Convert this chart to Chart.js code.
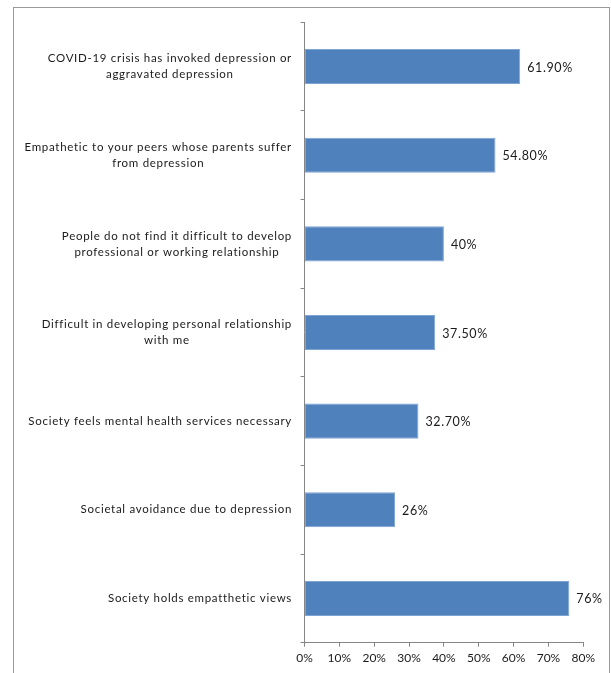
<!DOCTYPE html>
<html>
<head>
<meta charset="utf-8">
<script src="https://cdn.jsdelivr.net/npm/chart.js@4/dist/chart.umd.min.js"></script>
<style>
  html, body { margin: 0; padding: 0; background: #fff; }
  #wrap { position: relative; width: 611px; height: 673px; }
</style>
</head>
<body>
<div id="wrap"><canvas id="c" width="611" height="673"></canvas></div>
<script>
const categories = [
  ["COVID-19 crisis has invoked depression or", "aggravated depression"],
  ["Empathetic to your peers whose parents suffer", "from depression"],
  ["People do not find it difficult to develop", "professional or working relationship"],
  ["Difficult in developing personal relationship", "with me"],
  ["Society feels mental health services necessary"],
  ["Societal avoidance due to depression"],
  ["Society holds empatthetic views"]
];
const values = [61.9, 54.8, 40, 37.5, 32.7, 26, 76];
const valueLabels = ["61.90%", "54.80%", "40%", "37.50%", "32.70%", "26%", "76%"];
const xTickLabels = ["0%", "10%", "20%", "30%", "40%", "50%", "60%", "70%", "80%"];

const FONT = "Lato, 'Open Sans', sans-serif";

const frame = {
  id: 'frame',
  beforeDraw(chart) {
    const ctx = chart.ctx;
    ctx.save();
    ctx.fillStyle = '#ffffff';
    ctx.fillRect(0, 0, chart.width, chart.height);
    ctx.strokeStyle = '#9a9a9a';
    ctx.lineWidth = 1;
    ctx.strokeRect(13.5, 7.5, 596, 720);
    ctx.restore();
  }
};

const catLabels = {
  id: 'catLabels',
  afterDraw(chart) {
    const ctx = chart.ctx;
    const y = chart.scales.y;
    ctx.save();
    ctx.font = "11.5px " + FONT;
    if ('letterSpacing' in ctx) ctx.letterSpacing = '0.7px';
    ctx.fillStyle = '#1a1a1a';
    ctx.textBaseline = 'middle';
    ctx.textAlign = 'center';
    const right = 292;
    const lh = 16;
    categories.forEach((lines, i) => {
      const cy = y.getPixelForValue(i);
      const w = Math.max(...lines.map(l => ctx.measureText(l).width));
      const cx = right - w / 2;
      const start = cy - (lines.length - 1) * lh / 2;
      lines.forEach((l, k) => ctx.fillText(l, cx, start + k * lh));
    });
    ctx.restore();
  }
};

const valLabels = {
  id: 'valLabels',
  afterDatasetsDraw(chart) {
    const ctx = chart.ctx;
    const meta = chart.getDatasetMeta(0);
    ctx.save();
    ctx.font = "12.5px " + FONT;
    if ('letterSpacing' in ctx) ctx.letterSpacing = '0.6px';
    ctx.fillStyle = '#1a1a1a';
    ctx.textBaseline = 'middle';
    ctx.textAlign = 'left';
    meta.data.forEach((bar, i) => {
      ctx.fillText(valueLabels[i], bar.x + 7, bar.y + 1);
    });
    ctx.restore();
  }
};

new Chart(document.getElementById('c'), {
  type: 'bar',
  data: {
    labels: categories.map(c => c.join(' ')),
    datasets: [{
      data: values,
      backgroundColor: '#4F81BD',
      borderColor: '#7ea4d3',
      borderWidth: 1,
      borderSkipped: false,
      barPercentage: 0.395,
      categoryPercentage: 1
    }]
  },
  options: {
    indexAxis: 'y',
    responsive: false,
    animation: false,
    devicePixelRatio: 1,
    layout: { padding: { left: 0, right: 27.7, top: 22.3, bottom: 0 } },
    plugins: { legend: { display: false }, tooltip: { enabled: false } },
    scales: {
      x: {
        min: 0, max: 80,
        ticks: {
          stepSize: 10,
          padding: 4,
          color: '#1a1a1a',
          font: { family: FONT, size: 12 },
          callback: (v, i) => xTickLabels[i]
        },
        grid: { drawOnChartArea: false, tickLength: 4, color: '#868686' },
        border: { color: '#868686', width: 1 },
        afterFit(s) { s.height = 30.3; }
      },
      y: {
        ticks: { display: false },
        grid: { offset: true, drawOnChartArea: false, tickLength: 4, color: '#868686' },
        border: { color: '#868686', width: 1 },
        afterFit(s) { s.width = 304.5; }
      }
    }
  },
  plugins: [frame, catLabels, valLabels]
});
</script>
</body>
</html>
